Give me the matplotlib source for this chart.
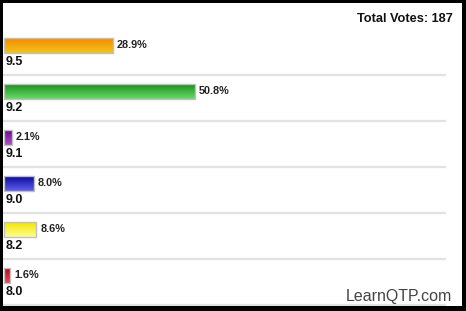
import numpy as np
import matplotlib
matplotlib.use('Agg')
import matplotlib.pyplot as plt
from matplotlib.colors import LinearSegmentedColormap

# poll results
percents = [28.9, 50.8, 2.1, 8.0, 8.6, 1.6]
scores = ['9.5', '9.2', '9.1', '9.0', '8.2', '8.0']
total_votes = 187
top_colors = ['#f58a00', '#1e8c1e', '#6a0d8a', '#0a0a9a', '#f2e400', '#b00a1a']
bottom_colors = ['#f2c41c', '#66dd66', '#b04ccc', '#6060f0', '#ffff90', '#f04a5a']

W, H = 466, 311
fig = plt.figure(figsize=(W / 100, H / 100), dpi=100)
fig.patch.set_facecolor('black')

# white panel inside black frame
ax = fig.add_axes([3 / W, 5 / H, 459 / W, 303 / H])
ax.set_facecolor('white')
px_per_pct = 3.76
for s in ax.spines.values():
    s.set_visible(False)
ax.set_xticks([])
ax.set_yticks([])

bar_h = 15 / 46
grad = np.linspace(0, 1, 64).reshape(-1, 1)
for i, p in enumerate(percents):
    cmap = LinearSegmentedColormap.from_list('g%d' % i, [top_colors[i], bottom_colors[i]])
    ax.imshow(grad, cmap=cmap, aspect='auto', interpolation='bilinear',
              extent=(0, p, i + bar_h / 2, i - bar_h / 2), zorder=2)
    ax.barh(i, p, height=bar_h, left=0, color='none', edgecolor='#c0c0c0',
            linewidth=1.0, zorder=3)
    ax.text(p + 4 / px_per_pct, i, '%.1f%%' % p, fontsize=7.8, fontweight='bold',
            family='Liberation Sans', color='#222222', va='center', ha='left')
    ax.text(1.5 / px_per_pct, i + 0.36, scores[i], fontsize=9, fontweight='bold',
            family='Liberation Sans', color='#111111', va='center', ha='left')
    ax.plot([-1 / px_per_pct, 442 / px_per_pct], [i + 0.64, i + 0.64],
            color='#e2e2e2', linewidth=1.6, zorder=1, solid_capstyle='butt')

ax.set_xlim(-1 / px_per_pct, 458 / px_per_pct)
ax.set_ylim((303 - 42.5) / 46, -42.5 / 46)

fig.text(453 / W, 1 - 19 / H, 'Total Votes: %d' % total_votes, fontsize=9.2,
         fontweight='bold', family='Liberation Sans', ha='right', va='center', color='#111111')
fig.text(452 / W, 1 - 297 / H, 'LearnQTP.com', fontsize=11.5,
         family='Liberation Sans', ha='right', va='center', color='#444444')

fig.savefig('out.png', dpi=100, facecolor=fig.get_facecolor())
